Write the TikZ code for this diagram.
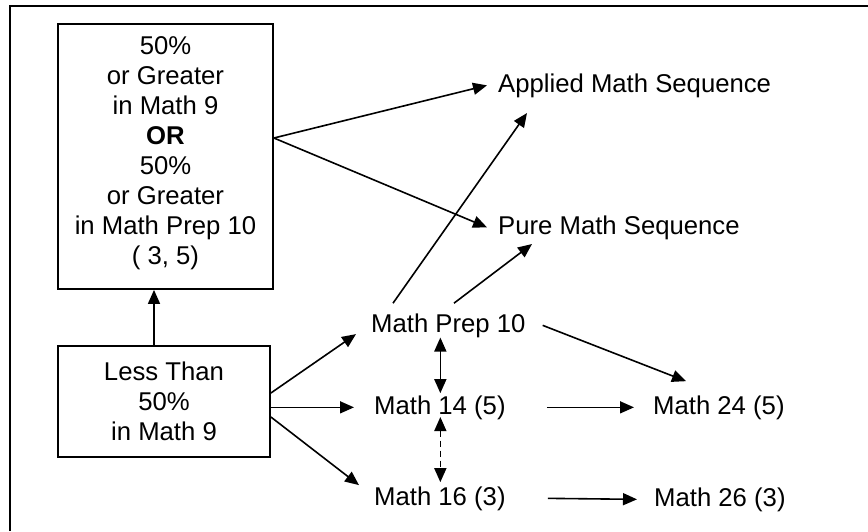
\documentclass[tikz,border=0pt]{standalone}
\usepackage{fontspec}
\setmainfont{Liberation Sans}
\usetikzlibrary{arrows.meta}
\begin{document}
\begin{tikzpicture}[x=1pt,y=-1pt,
  every node/.style={font=\fontsize{25.7}{30}\selectfont, inner sep=0pt},
  box/.style={draw, line width=1.8pt},
  lbl/.style={anchor=base west},
  tip/.tip={Triangle[length=14pt,width=12pt]},
  arr/.style={line width=1.6pt, -tip},
  dbl/.style={line width=1.6pt, tip-tip},
  frameline/.style={line width=2.2pt}]
\useasboundingbox (0,0) rectangle (868,531);
\draw[frameline] (10,531) -- (10,6) -- (868,6);

\node[box, minimum width=215pt, minimum height=265pt] (high) at (165.5,156.5) {};
\node[align=center] (hightext) at (165.5,153) {50\%\\or Greater\\in Math 9\\\textbf{OR}\\50\%\\or Greater\\in Math Prep 10\\( 3, 5)};
\node[box, align=center, minimum width=212pt, minimum height=111pt] (low) at (164,401.5) {Less Than\\50\%\\in Math 9};

\node[lbl] (app) at (498,92) {Applied Math Sequence};
\node[lbl] (pure) at (498,234) {Pure Math Sequence};
\node[lbl] (prep) at (371,332) {Math Prep 10};
\node[lbl] (m14) at (374,414) {Math 14 (5)};
\node[lbl] (m16) at (374,505) {Math 16 (3)};
\node[lbl] (m24) at (653,414) {Math 24 (5)};
\node[lbl] (m26) at (654,506) {Math 26 (3)};

\draw[arr] ([xshift=-10pt]low.north) -- ([xshift=-10pt]low.north |- high.south);
\draw[arr] ([yshift=18.5pt]high.east) -- ([xshift=-11pt]app.west);
\draw[arr] ([yshift=18.5pt]high.east) -- ([xshift=-11pt]pure.west);

\draw[arr] ([yshift=8.5pt]low.east) -- ([shift={(-15pt,-8.75pt)}]prep.west);
\draw[arr] (low.east |- m14.west) -- ([xshift=-20pt]m14.west);
\draw[arr] ([yshift=-15.5pt]low.east) -- ([shift={(-15pt,13.25pt)}]m16.west);

\draw[arr] ([shift={(22pt,10pt)}]prep.north west) -- ([shift={(29pt,-15.5pt)}]app.south west);
\draw[arr] ([shift={(83pt,10pt)}]prep.north west) -- ([shift={(34pt,-4.5pt)}]pure.south west);
\draw[arr] ([xshift=17pt]prep.east) -- ([shift={(33pt,14pt)}]m24.north west);

\coordinate (vx) at ([xshift=-8pt]prep.south);
\draw[dbl, shorten >=2pt] (vx) -- (vx |- m14.north);
\draw[dbl, dash pattern=on 6pt off 4pt, shorten <=-2.5pt, shorten >=4pt] (vx |- m14.south) -- (vx |- m16.north);

\draw[arr] ([xshift=41pt]m14.east) -- ([xshift=-19pt]m24.west);
\draw[arr] ([xshift=42pt]m16.east) -- ([xshift=-17pt]m26.west);
\end{tikzpicture}
\end{document}
